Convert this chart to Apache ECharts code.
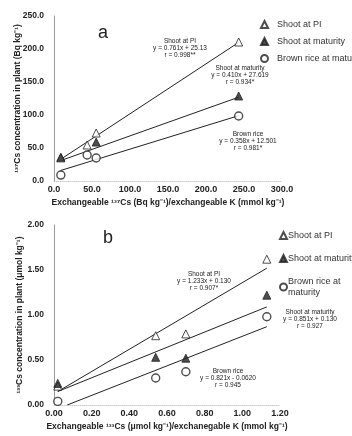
<!DOCTYPE html>
<html>
<head>
<meta charset="utf-8">
<script src="https://cdn.jsdelivr.net/npm/echarts@6/dist/echarts.min.js"></script>
<style>
html,body{margin:0;padding:0;background:#fff;}
#c{width:352px;height:436px;}
</style>
</head>
<body>
<div id="c"></div>
<script>
// ---------- Data ----------
const seriesNames = ['Shoot at PI', 'Shoot at maturity', 'Brown rice at maturity'];

// Panel a: 137Cs
const aXTicks = [0, 50, 100, 150, 200, 250, 300];
const aYTicks = [0, 50, 100, 150, 200, 250];
const aShootPI = [[9, 35], [43.6, 54.5], [55.5, 72.7], [243, 210.6]];
const aShootMat = [[9, 36], [55.5, 59], [243, 128.8]];
const aBrownRice = [[9, 9], [43.6, 39.4], [55.5, 34.8], [243, 98.5]];
const aFitPI = [[9, 33], [243, 210]];
const aFitMat = [[9, 31], [243, 127]];
const aFitBR = [[9, 16], [243, 99]];
const aNotes = [
  ['Shoot at PI', 'y = 0.761x + 25.13', 'r = 0.998**'],
  ['Shoot at maturity', 'y = 0.410x + 27.619', 'r = 0.934*'],
  ['Brown rice', 'y = 0.358x + 12.501', 'r = 0.981*']
];

// Panel b: 133Cs
const bXTicks = [0, 0.2, 0.4, 0.6, 0.8, 1.0, 1.2];
const bYTicks = [0, 0.5, 1.0, 1.5, 2.0];
const bShootPI = [[0.02, 0.21], [0.54, 0.77], [0.70, 0.79], [1.13, 1.62]];
const bShootMat = [[0.02, 0.24], [0.54, 0.53], [0.70, 0.52], [1.13, 1.22]];
const bBrownRice = [[0.02, 0.04], [0.54, 0.30], [0.70, 0.37], [1.13, 0.98]];
const bFitPI = [[0.02, 0.15], [1.13, 1.52]];
const bFitMat = [[0.02, 0.15], [1.13, 1.09]];
const bFitBR = [[0.07, 0.0], [1.13, 0.87]];
const bNotes = [
  ['Shoot at PI', 'y = 1.233x + 0.130', 'r = 0.907*'],
  ['Shoot at maturity', 'y = 0.851x + 0.130', 'r = 0.927'],
  ['Brown rice', 'y = 0.821x - 0.0620', 'r = 0.945']
];

// ---------- Styling ----------
const FONT = "'Liberation Sans', Arial, sans-serif";
const INK = '#222';
const symOpenTri = {symbol: 'triangle', symbolSize: 8, itemStyle: {color: '#fff', borderColor: INK, borderWidth: 1}};
const symFillTri = {symbol: 'triangle', symbolSize: 8, itemStyle: {color: INK, borderColor: INK, borderWidth: 1}};
const symCircle = {symbol: 'circle', symbolSize: 8, itemStyle: {color: '#fff', borderColor: INK, borderWidth: 1.4}};

function scatter(name, data, idx, sym) {
  return Object.assign({type: 'scatter', name: name, data: data, xAxisIndex: idx, yAxisIndex: idx, z: 5}, sym);
}
function fit(data, idx) {
  return {type: 'line', data: data, xAxisIndex: idx, yAxisIndex: idx, symbol: 'none',
    lineStyle: {color: INK, width: 1}, z: 3, silent: true};
}
function xAxis(idx, ticks, name, dec) {
  return {type: 'value', gridIndex: idx, min: ticks[0], max: ticks[ticks.length - 1],
    interval: ticks[1] - ticks[0], name: name, nameLocation: 'middle', nameGap: 17,
    nameMoveOverlap: false,
    nameTextStyle: {fontFamily: FONT, fontSize: 8.5, fontWeight: 'bold', color: INK},
    axisLine: {show: true, lineStyle: {color: '#ccc', type: 'dotted', width: 1}},
    axisTick: {show: false}, splitLine: {show: false},
    axisLabel: {fontFamily: FONT, fontSize: 9, fontWeight: 'bold', color: INK, margin: 4,
      formatter: v => v.toFixed(dec)}};
}
function yAxis(idx, ticks, name, dec, gap) {
  return {type: 'value', gridIndex: idx, min: ticks[0], max: ticks[ticks.length - 1],
    interval: ticks[1] - ticks[0], name: name, nameLocation: 'middle', nameGap: gap, nameRotate: 90,
    nameMoveOverlap: false,
    nameTextStyle: {fontFamily: FONT, fontSize: 8.5, fontWeight: 'bold', color: INK},
    axisLine: {show: true, lineStyle: {color: '#999', width: 1}},
    axisTick: {show: false}, splitLine: {show: false},
    axisLabel: {fontFamily: FONT, fontSize: 8.5, fontWeight: 'bold', color: INK, margin: 10,
      formatter: v => v.toFixed(dec)}};
}
function note(lines, x, y) {
  return {type: 'text', x: x, y: y, z: 10,
    style: {text: lines.join('\n'), fontFamily: FONT, fontSize: 6.5, lineHeight: 7,
      fill: INK, align: 'center', verticalAlign: 'top'}};
}

const chart = echarts.init(document.getElementById('c'), null, {renderer: 'canvas'});
chart.setOption({
  animation: false,
  backgroundColor: '#fff',
  grid: [
    {left: 54, top: 16, width: 228, height: 165, containLabel: false, outerBoundsMode: 'none'},
    {left: 54, top: 225, width: 226, height: 180, containLabel: false, outerBoundsMode: 'none'}
  ],
  xAxis: [
    xAxis(0, aXTicks, 'Exchangeable \u00B9\u00B3\u2077Cs (Bq kg\u207B\u00B9)/exchangeable K (mmol kg\u207B\u00B9)', 1),
    xAxis(1, bXTicks, 'Exchangeable \u00B9\u00B3\u00B3Cs (\u03BCmol kg\u207B\u00B9)/exchanegable K (mmol kg\u207B\u00B9)', 2)
  ],
  yAxis: [
    yAxis(0, aYTicks, '\u00B9\u00B3\u2077Cs concentration in plant (Bq kg\u207B\u00B9)', 1, 32),
    yAxis(1, bYTicks, '\u00B9\u00B3\u00B3Cs concentration in plant (\u03BCmol kg\u207B\u00B9)', 2, 30)
  ],
  legend: [
    {orient: 'vertical', left: 255, top: 15, itemWidth: 7, itemHeight: 7, itemGap: 8,
      data: seriesNames, selectedMode: false,
      textStyle: {fontFamily: FONT, fontSize: 9, color: '#333', padding: [0, 0, 0, 4]}},
    {orient: 'vertical', left: 274, top: 225, itemWidth: 7, itemHeight: 7, itemGap: 12,
      data: seriesNames, selectedMode: false,
      formatter: n => n === 'Brown rice at maturity' ? 'Brown rice at\nmaturity' : n,
      textStyle: {fontFamily: FONT, fontSize: 9, color: '#333', lineHeight: 11, padding: [0, 0, 0, -4]}}
  ],
  series: [
    fit(aFitPI, 0), fit(aFitMat, 0), fit(aFitBR, 0),
    scatter(seriesNames[0], aShootPI, 0, symOpenTri),
    scatter(seriesNames[1], aShootMat, 0, symFillTri),
    scatter(seriesNames[2], aBrownRice, 0, symCircle),
    fit(bFitPI, 1), fit(bFitMat, 1), fit(bFitBR, 1),
    scatter(seriesNames[0], bShootPI, 1, symOpenTri),
    scatter(seriesNames[1], bShootMat, 1, symFillTri),
    scatter(seriesNames[2], bBrownRice, 1, symCircle)
  ],
  graphic: [
    {type: 'text', x: 103, y: 33, style: {text: 'a', fontFamily: FONT, fontSize: 18, fill: INK, align: 'center', verticalAlign: 'middle'}},
    {type: 'text', x: 108, y: 238, style: {text: 'b', fontFamily: FONT, fontSize: 18, fill: INK, align: 'center', verticalAlign: 'middle'}},
    note(aNotes[0], 180, 38),
    note(aNotes[1], 240, 65),
    note(aNotes[2], 248, 131),
    note(bNotes[0], 204, 271),
    note(bNotes[1], 310, 309),
    note(bNotes[2], 228, 368)
  ]
});
</script>
</body>
</html>
